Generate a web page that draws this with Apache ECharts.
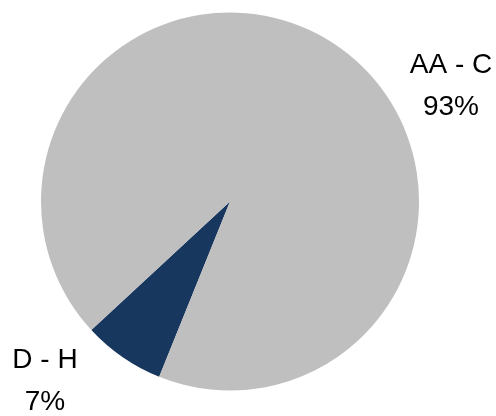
<!DOCTYPE html>
<html>
<head>
<meta charset="utf-8">
<script src="https://cdn.jsdelivr.net/npm/echarts@6/dist/echarts.min.js"></script>
<style>
  html, body { margin: 0; padding: 0; background: #fff; }
  #chart { width: 496px; height: 416px; }
</style>
</head>
<body>
<div id="chart"></div>
<script>
// slice order follows the original: the small slice first, rotated to lower left
const categories = ['D - H', 'AA - C'];
const shares = [7, 93];
const sliceColors = ['#17375e', '#bfbfbf'];
// where each label block sits (centre of the two text lines)
const labelSpots = [[45, 381], [451, 86]];

const chart = echarts.init(document.getElementById('chart'));

const option = {
  animation: false,
  series: [
    {
      type: 'pie',
      center: [230, 201.5],
      radius: 189,
      startAngle: 248,
      clockwise: true,
      emphasis: { disabled: true },
      data: categories.map((name, i) => ({
        name: name,
        value: shares[i],
        itemStyle: { color: sliceColors[i] }
      })),
      label: {
        show: true,
        position: 'outside',
        formatter: p => p.name + '\n' + Math.round(p.percent) + '%',
        fontFamily: 'Liberation Sans',
        fontSize: 28,
        lineHeight: 42,
        color: '#000',
        align: 'center'
      },
      labelLine: { show: false },
      labelLayout: params => ({
        x: labelSpots[params.dataIndex][0],
        y: labelSpots[params.dataIndex][1],
        align: 'center',
        verticalAlign: 'middle'
      })
    }
  ]
};

option && chart.setOption(option);
</script>
</body>
</html>
